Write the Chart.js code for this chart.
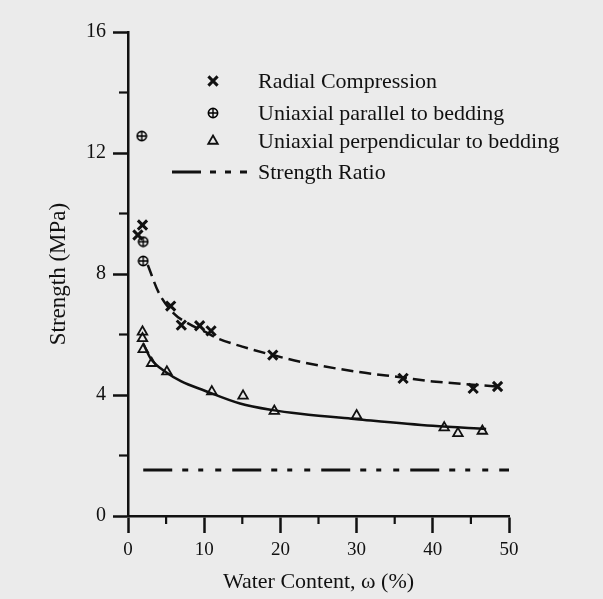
<!DOCTYPE html>
<html><head><meta charset="utf-8">
<script src="https://cdn.jsdelivr.net/npm/chart.js@4.4.1/dist/chart.umd.min.js"></script>
<style>html,body{margin:0;padding:0;background:#ebebeb;}#wrap{width:603px;height:599px;}</style>
</head><body><div id="wrap"><canvas id="c" width="603" height="599"></canvas></div>
<script>
// ---- data ----
const radialW = [1.3, 1.9, 5.6, 7.0, 9.4, 10.9, 19.0, 36.1, 45.3, 48.5];
const radialS = [9.29, 9.62, 6.94, 6.31, 6.29, 6.12, 5.32, 4.55, 4.22, 4.28];
const parallelW = [1.8, 2.0, 2.0];
const parallelS = [12.56, 9.07, 8.43];
const perpW = [1.9, 1.9, 2.0, 3.1, 5.1, 11.0, 15.1, 19.2, 30.0, 41.5, 43.3, 46.5];
const perpS = [6.09, 5.87, 5.51, 5.05, 4.77, 4.11, 3.97, 3.47, 3.32, 2.92, 2.73, 2.81];
const radialFitW = [2.6, 4, 6, 8, 10, 12, 15, 19, 22.6, 30, 36, 40, 48.5];
const radialFitS = [8.3, 7.4, 6.7, 6.35, 6.1, 5.85, 5.6, 5.32, 5.1, 4.77, 4.58, 4.45, 4.28];
const perpFitW = [2, 3, 5, 7, 10, 14.7, 19, 22.6, 30, 40, 47];
const perpFitS = [5.7, 5.2, 4.75, 4.45, 4.15, 3.72, 3.5, 3.38, 3.2, 2.98, 2.88];
const ratioW = [2, 50];
const ratioS = [1.52, 1.52];
const xMajorTicks = [0, 10, 20, 30, 40, 50];
const xMinorTicks = [5, 15, 25, 35, 45];
const yMajorTicks = [0, 4, 8, 12, 16];
const yMinorTicks = [2, 6, 10, 14];
const legendNames = ['Radial Compression', 'Uniaxial parallel to bedding', 'Uniaxial perpendicular to bedding', 'Strength Ratio'];

const INK = '#111111';
const FONT = "'Liberation Serif', 'Times New Roman', serif";
const pts = (xs, ys) => xs.map((x, i) => ({x: x, y: ys[i]}));

function circlePlus() {
  const c = document.createElement('canvas');
  c.width = 12; c.height = 12;
  const g = c.getContext('2d');
  g.strokeStyle = '#000'; g.lineWidth = 1.7;
  g.beginPath(); g.arc(6, 6, 4.6, 0, Math.PI * 2); g.stroke();
  g.lineWidth = 1.4;
  g.beginPath(); g.moveTo(6, 1); g.lineTo(6, 11); g.moveTo(1, 6); g.lineTo(11, 6); g.stroke();
  return c;
}
const cp = circlePlus();

const datasets = [
  {label: legendNames[0], data: pts(radialW, radialS), showLine: false, pointStyle: 'crossRot', pointRadius: 6.5, pointBorderWidth: 3, borderColor: INK, backgroundColor: INK},
  {label: legendNames[1], data: pts(parallelW, parallelS), showLine: false, pointStyle: cp, pointRadius: 5, borderColor: INK, backgroundColor: INK},
  {label: legendNames[2], data: pts(perpW, perpS), showLine: false, pointStyle: 'triangle', pointRadius: 5.5, pointBorderWidth: 1.8, borderColor: INK, backgroundColor: 'rgba(0,0,0,0)'},
  {label: legendNames[3], data: pts(ratioW, ratioS), showLine: true, pointRadius: 0, borderWidth: 3, borderColor: INK, borderDash: [29, 10, 6, 10, 5, 12, 6, 11]},
  {label: 'radial fit', data: pts(radialFitW, radialFitS), showLine: true, pointRadius: 0, borderWidth: 2.5, borderColor: INK, borderDash: [12, 6], cubicInterpolationMode: 'monotone'},
  {label: 'perp fit', data: pts(perpFitW, perpFitS), showLine: true, pointRadius: 0, borderWidth: 2.5, borderColor: INK, cubicInterpolationMode: 'monotone'}
];

const extras = {
  id: 'extras',
  afterDraw(chart) {
    const ctx = chart.ctx, x = chart.scales.x, y = chart.scales.y;
    ctx.save();
    ctx.strokeStyle = INK; ctx.lineWidth = 2.2; ctx.lineCap = 'butt';
    yMinorTicks.forEach(v => { const py = y.getPixelForValue(v); ctx.beginPath(); ctx.moveTo(x.left - 9, py); ctx.lineTo(x.left, py); ctx.stroke(); });
    xMinorTicks.forEach(v => { const px = x.getPixelForValue(v); ctx.beginPath(); ctx.moveTo(px, y.bottom); ctx.lineTo(px, y.bottom + 8); ctx.stroke(); });
    // legend
    const mx = 213, tx = 258, rows = [81, 113, 141, 172];
    ctx.fillStyle = INK;
    ctx.font = '22px ' + FONT;
    ctx.textBaseline = 'middle';
    ctx.textAlign = 'left';
    for (let i = 0; i < 3; i++) {
      const ds = chart.data.datasets[i];
      ctx.save();
      ctx.strokeStyle = INK;
      ctx.fillStyle = ds.backgroundColor;
      ctx.lineWidth = ds.pointBorderWidth || 1;
      Chart.helpers.drawPoint(ctx, {pointStyle: ds.pointStyle, radius: ds.pointRadius, borderWidth: ds.pointBorderWidth || 1, rotation: 0}, mx, rows[i]);
      ctx.restore();
      ctx.fillText(ds.label, tx, rows[i] + 1);
    }
    const rd = chart.data.datasets[3];
    ctx.save();
    ctx.lineWidth = rd.borderWidth; ctx.setLineDash([29, 9, 6, 9, 6, 9, 7]);
    ctx.beginPath(); ctx.moveTo(172, rows[3]); ctx.lineTo(249, rows[3]); ctx.stroke();
    ctx.restore();
    ctx.fillText(rd.label, tx, rows[3] + 1);
    ctx.restore();
  }
};

new Chart(document.getElementById('c'), {
  type: 'scatter',
  data: {datasets: datasets},
  options: {
    responsive: false, animation: false, devicePixelRatio: 1,
    layout: {padding: {left: 0, top: 32, right: 94, bottom: 0}},
    plugins: {legend: {display: false}, tooltip: {enabled: false}},
    scales: {
      x: {
        type: 'linear', min: 0, max: 50,
        afterBuildTicks: s => { s.ticks = xMajorTicks.map(v => ({value: v})); },
        afterFit: s => { s.height = 83; },
        ticks: {color: INK, font: {family: FONT, size: 19}, padding: 6},
        grid: {drawOnChartArea: false, tickLength: 17, tickWidth: 2.5, tickColor: INK},
        border: {width: 2.5, color: INK},
        title: {display: true, text: 'Water Content, ω (%)', color: INK, font: {family: FONT, size: 22}, padding: {top: 0, bottom: 4}}
      },
      y: {
        type: 'linear', min: 0, max: 16,
        afterBuildTicks: s => { s.ticks = yMajorTicks.map(v => ({value: v})); },
        afterFit: s => { s.width = 128; },
        ticks: {color: INK, font: {family: FONT, size: 20}, padding: 7},
        grid: {drawOnChartArea: false, tickLength: 15, tickWidth: 2.5, tickColor: INK},
        border: {width: 2.5, color: INK},
        title: {display: true, text: 'Strength (MPa)', color: INK, font: {family: FONT, size: 23}, padding: {top: 45, bottom: 0}}
      }
    }
  },
  plugins: [extras]
});
</script></body></html>
